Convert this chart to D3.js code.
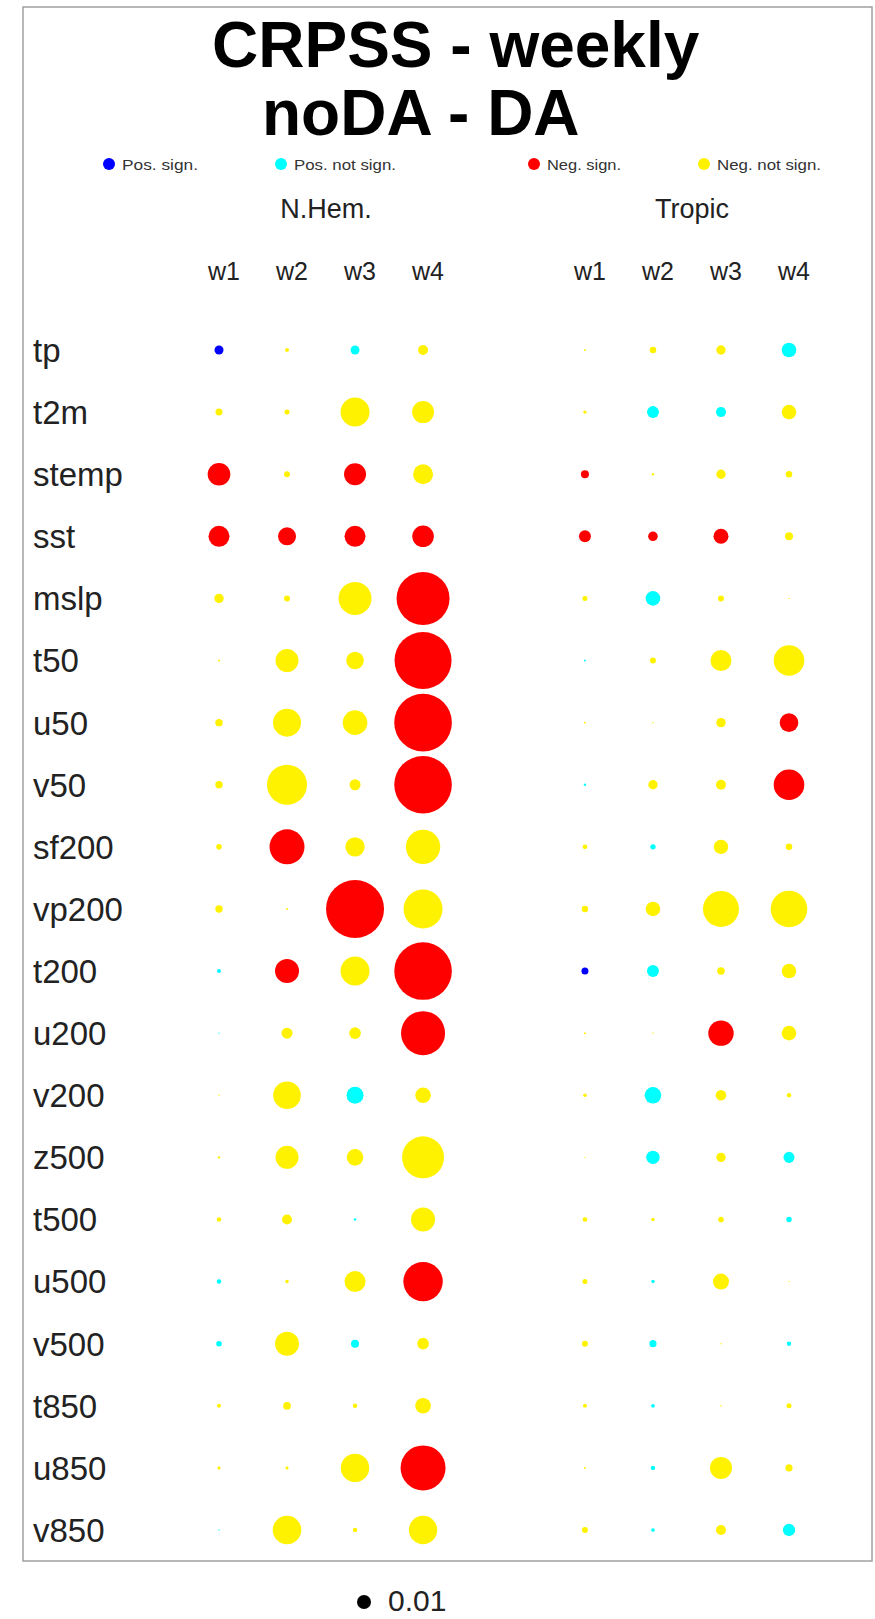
<!DOCTYPE html>
<html>
<head>
<meta charset="utf-8">
<script src="https://cdnjs.cloudflare.com/ajax/libs/d3/7.8.5/d3.min.js"></script>
<style>
  body { margin: 0; background: #fff; }
  text { font-family: "Liberation Sans", Arial, Helvetica, sans-serif; }
</style>
</head>
<body>
<div id="chart"></div>
<script>
// Variables (rows) and lead weeks (columns)
var rows = ["tp", "t2m", "stemp", "sst", "mslp", "t50", "u50", "v50", "sf200", "vp200",
            "t200", "u200", "v200", "z500", "t500", "u500", "v500", "t850", "u850", "v850"];
var weeks = ["w1", "w2", "w3", "w4"];
var regions = ["N.Hem.", "Tropic"];

// CRPSS difference noDA - DA, N.Hem.
var nhemValues = [
  [ 0.0041, -0.0008,  0.0041, -0.0051],
  [-0.0025, -0.0013, -0.0429, -0.0247],
  [-0.0261, -0.0018, -0.0247, -0.0204],
  [-0.0225, -0.0165, -0.0225, -0.0238],
  [-0.0045, -0.0018, -0.0556, -0.1433],
  [-0.0002, -0.0270, -0.0158, -0.1658],
  [-0.0028, -0.0400, -0.0309, -0.1693],
  [-0.0028, -0.0816, -0.0062, -0.1693],
  [-0.0016, -0.0625, -0.0192, -0.0604],
  [-0.0028, -0.0002, -0.1716, -0.0776],
  [ 0.0008, -0.0294, -0.0429, -0.1693],
  [ 0.0001, -0.0062, -0.0069, -0.0988],
  [-0.0001, -0.0389,  0.0147, -0.0124],
  [-0.0003, -0.0270, -0.0141, -0.0900],
  [-0.0010, -0.0051,  0.0003, -0.0294],
  [ 0.0010, -0.0006, -0.0225, -0.0792],
  [ 0.0016, -0.0294,  0.0033, -0.0069],
  [-0.0008, -0.0031, -0.0010, -0.0124],
  [-0.0005, -0.0005, -0.0412, -0.1033],
  [ 0.0001, -0.0417, -0.0010, -0.0412]
];
// significance flags, N.Hem.
var nhemSig = [
  [1,0,0,0], [0,0,0,0], [1,0,1,0], [1,1,1,1], [0,0,0,1],
  [0,0,0,1], [0,0,0,1], [0,0,0,1], [0,1,0,0], [0,0,1,0],
  [0,1,0,1], [0,0,0,1], [0,0,0,0], [0,0,0,0], [0,0,0,0],
  [0,0,0,1], [0,0,0,0], [0,0,0,0], [0,0,0,1], [0,0,0,0]
];

// CRPSS difference noDA - DA, Tropic
var tropValues = [
  [-0.0002, -0.0022, -0.0045,  0.0109],
  [-0.0006,  0.0073,  0.0051, -0.0109],
  [-0.0033, -0.0003, -0.0045, -0.0022],
  [-0.0073, -0.0047, -0.0115, -0.0033],
  [-0.0013,  0.0109, -0.0018, -0.0001],
  [ 0.0002, -0.0018, -0.0225, -0.0478],
  [-0.0002, -0.0001, -0.0045, -0.0177],
  [ 0.0003, -0.0045, -0.0051, -0.0478],
  [-0.0011,  0.0015, -0.0106, -0.0022],
  [-0.0021, -0.0109, -0.0661, -0.0683],
  [ 0.0025,  0.0073, -0.0029, -0.0109],
  [-0.0002, -0.0001, -0.0329, -0.0109],
  [-0.0006,  0.0141, -0.0057, -0.0010],
  [-0.0001,  0.0092, -0.0045,  0.0062],
  [-0.0011, -0.0006, -0.0016,  0.0015],
  [-0.0013,  0.0006, -0.0131, -0.0001],
  [-0.0018,  0.0026, -0.0001,  0.0010],
  [-0.0008,  0.0007, -0.0001, -0.0013],
  [-0.0002,  0.0010, -0.0247, -0.0026],
  [-0.0018,  0.0007, -0.0051,  0.0078]
];
// significance flags, Tropic
var tropSig = [
  [0,0,0,0], [0,0,0,0], [1,0,0,0], [1,1,1,0], [0,0,0,0],
  [0,0,0,0], [0,0,0,1], [0,0,0,1], [0,0,0,0], [0,0,0,0],
  [1,0,0,0], [0,0,1,0], [0,0,0,0], [0,0,0,0], [0,0,0,0],
  [0,0,0,0], [0,0,0,0], [0,0,0,0], [0,0,0,0], [0,0,0,0]
];

var legendLabels = ["Pos. sign.", "Pos. not sign.", "Neg. sign.", "Neg. not sign."];
var legendColors = ["#0000ff", "#00ffff", "#ff0000", "#fff200"];
var keyValue = 0.01;

var width = 875;
var height = 1619;

var svg = d3.select("#chart").append("svg")
    .attr("width", width)
    .attr("height", height);

// frame
svg.append("rect")
    .attr("x", 23).attr("y", 7)
    .attr("width", 849).attr("height", 1554)
    .style("fill", "#fff")
    .style("stroke", "#a0a0a0")
    .style("stroke-width", 1.5);

// title
svg.append("text")
    .attr("x", 212).attr("y", 67)
    .style("font-size", "64px").style("font-weight", "bold")
    .text("CRPSS - weekly");
svg.append("text")
    .attr("x", 262).attr("y", 135)
    .style("font-size", "64px").style("font-weight", "bold")
    .text("noDA - DA");

// scales
var y = d3.scalePoint().domain(rows).range([350, 1530]);
// column position: N.Hem. weeks at 0..3, Tropic weeks at 5.38..8.38
var x = d3.scaleLinear().domain([0, 8.38]).range([219, 789]);
var regionOffset = [0, 5.38];
var r = d3.scaleSqrt().domain([0, 0.01]).range([0, 7]);

function colorOf(v, s) {
    if (v >= 0) return s ? legendColors[0] : legendColors[1];
    return s ? legendColors[2] : legendColors[3];
}

// legend
var legend = svg.selectAll(".legend")
    .data(legendLabels)
    .enter().append("g")
    .attr("class", "legend");
var legX = [109, 281, 534, 704];
var legW = [76, 102, 74, 104];
legend.append("circle")
    .attr("cx", function(d, i) { return legX[i]; })
    .attr("cy", 164)
    .attr("r", 6)
    .style("fill", function(d, i) { return legendColors[i]; });
legend.append("text")
    .attr("x", function(d, i) { return legX[i] + 13; })
    .attr("y", 169.5)
    .attr("textLength", function(d, i) { return legW[i]; })
    .attr("lengthAdjust", "spacingAndGlyphs")
    .style("font-size", "15px")
    .style("fill", "#333")
    .text(function(d) { return d; });

// region headers
svg.selectAll(".region")
    .data(regions)
    .enter().append("text")
    .attr("class", "region")
    .attr("x", function(d, i) { return x(regionOffset[i] + 1.5) + 5; })
    .attr("y", 218)
    .style("text-anchor", "middle")
    .style("font-size", "27px")
    .style("fill", "#222")
    .text(function(d) { return d; });

// week headers
regionOffset.forEach(function(off) {
    svg.selectAll(null)
        .data(weeks)
        .enter().append("text")
        .attr("x", function(d, i) { return x(off + i) + 5; })
        .attr("y", 280)
        .style("text-anchor", "middle")
        .style("font-size", "25px")
        .style("fill", "#222")
        .text(function(d) { return d; });
});

// row labels
svg.selectAll(".rowlab")
    .data(rows)
    .enter().append("text")
    .attr("class", "rowlab")
    .attr("x", 33)
    .attr("y", function(d) { return y(d); })
    .attr("dy", "0.36em")
    .style("font-size", "33px")
    .style("fill", "#222")
    .text(function(d) { return d; });

// bubbles
var cells = [];
[[nhemValues, nhemSig], [tropValues, tropSig]].forEach(function(pair, k) {
    rows.forEach(function(row, i) {
        weeks.forEach(function(w, j) {
            cells.push({ row: row, col: regionOffset[k] + j, v: pair[0][i][j], s: pair[1][i][j] });
        });
    });
});

svg.selectAll(".dot")
    .data(cells)
    .enter().append("circle")
    .attr("class", "dot")
    .attr("cx", function(d) { return x(d.col); })
    .attr("cy", function(d) { return y(d.row); })
    .attr("r", function(d) { return r(Math.abs(d.v)); })
    .style("fill", function(d) { return colorOf(d.v, d.s); });

// size key
svg.append("circle")
    .attr("cx", 364).attr("cy", 1602)
    .attr("r", r(keyValue))
    .style("fill", "#000");
svg.append("text")
    .attr("x", 388).attr("y", 1611)
    .style("font-size", "30px")
    .style("fill", "#222")
    .text(keyValue);
</script>
</body>
</html>
